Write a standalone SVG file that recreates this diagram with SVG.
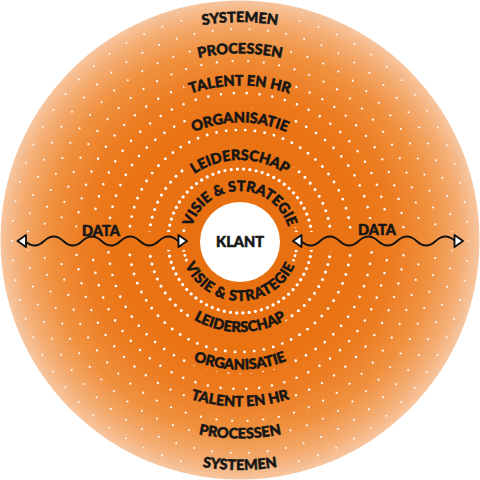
<svg xmlns="http://www.w3.org/2000/svg" xmlns:xlink="http://www.w3.org/1999/xlink" width="480" height="480" viewBox="0 0 480 480">
  <style>
    .lbl { font-family: Lato, "Liberation Sans", "DejaVu Sans", sans-serif; font-weight: 900; font-size: 14.5px; }
    .ring { fill: none; stroke: #ffffff; stroke-linecap: round; }
    .wave { fill: none; stroke: #111111; stroke-width: 1.8; }
    .head { fill: #ffffff; stroke: #111111; stroke-width: 1.9; stroke-linejoin: round; }
  </style>
  <defs>
    <radialGradient id="bg" gradientUnits="userSpaceOnUse" cx="240" cy="240" r="240">
      <stop offset="0" stop-color="#E86E0E"/>
      <stop offset="0.5" stop-color="#EA7313"/>
      <stop offset="0.65" stop-color="#ED7C22"/>
      <stop offset="0.8" stop-color="#F0913F"/>
      <stop offset="0.92" stop-color="#F4AC72"/>
      <stop offset="1" stop-color="#F7C6A0"/>
    </radialGradient>
    <path id="t50" d="M190 241 A50 50 0 0 1 290 241"/>
    <path id="t81" d="M159 241 A81 81 0 0 1 321 241"/>
    <path id="t118" d="M121.5 241 A118.5 118.5 0 0 1 358.5 241"/>
    <path id="t155" d="M84.5 241 A155.5 155.5 0 0 1 395.5 241"/>
    <path id="t187" d="M52.5 241 A187.5 187.5 0 0 1 427.5 241"/>
    <path id="t219" d="M21 241 A219 219 0 0 1 459 241"/>
    <path id="b60" d="M180 241 A60 60 0 0 0 300 241"/>
    <path id="b91" d="M149 241 A91 91 0 0 0 331 241"/>
    <path id="b128" d="M111.5 241 A128.5 128.5 0 0 0 368.5 241"/>
    <path id="b165" d="M74.5 241 A165.5 165.5 0 0 0 405.5 241"/>
    <path id="b197" d="M42.5 241 A197.5 197.5 0 0 0 437.5 241"/>
    <path id="b229" d="M11 241 A229 229 0 0 0 469 241"/>
    <polygon id="head" points="0,0 8.5,-6 8.5,6"/>
    <mask id="dotmask" maskUnits="userSpaceOnUse" x="0" y="0" width="480" height="480">
      <rect x="0" y="0" width="480" height="480" fill="#ffffff"/>
      <g stroke="#000000" stroke-width="9" stroke-linejoin="round">
        <use xlink:href="#labels"/>
      </g>
      <g fill="#000000">
        <rect x="13" y="232" width="179" height="18"/>
        <rect x="288" y="232" width="180" height="18"/>
        <rect x="77" y="220" width="48" height="19"/>
        <rect x="353" y="219" width="48" height="19"/>
      </g>
    </mask>
  </defs>

  <circle id="disc" cx="240" cy="240" r="239.5" fill="url(#bg)"/>

  <g id="dot-rings" mask="url(#dotmask)">
    <circle class="ring" cx="240" cy="241" r="57" stroke-width="2.9" stroke-dasharray="0 4.974"/>
    <circle class="ring" cx="240" cy="241" r="72" stroke-width="3.3" stroke-dasharray="0 6.283" stroke-dashoffset="3.14"/>
    <circle class="ring" cx="240" cy="241" r="91" stroke-width="3.1" stroke-dasharray="0 7.941"/>
    <circle class="ring" cx="240" cy="241" r="111" stroke-width="2.9" stroke-dasharray="0 9.687" stroke-dashoffset="4.84"/>
    <circle class="ring" cx="240" cy="241" r="132" stroke-width="2.7" stroke-dasharray="0 11.519"/>
    <circle class="ring" cx="240" cy="241" r="148" stroke-width="2.55" stroke-dasharray="0 12.915" stroke-dashoffset="6.46"/>
    <circle class="ring" cx="240" cy="241" r="164" stroke-width="2.4" stroke-dasharray="0 14.312"/>
    <circle class="ring" cx="240" cy="241" r="180" stroke-width="2.25" stroke-dasharray="0 15.708" stroke-dashoffset="7.85"/>
    <circle class="ring" cx="240" cy="241" r="196" stroke-width="2.1" stroke-dasharray="0 17.104"/>
    <circle class="ring" cx="240" cy="241" r="212" stroke-width="2" stroke-dasharray="0 18.5" stroke-dashoffset="9.25"/>
    <circle class="ring" cx="240" cy="241" r="228" stroke-width="1.9" stroke-dasharray="0 19.897"/>
  </g>

  <g stroke="#161616" stroke-width="0.55" stroke-linejoin="round">
  <g id="labels" fill="#161616">
    <g id="visie-top"><text class="lbl" text-anchor="middle"><textPath xlink:href="#t50" startOffset="50%">VISIE &amp; STRATEGIE</textPath></text></g>
    <g id="leiderschap-top"><text class="lbl" text-anchor="middle"><textPath xlink:href="#t81" startOffset="50%">LEIDERSCHAP</textPath></text></g>
    <g id="organisatie-top"><text class="lbl" text-anchor="middle"><textPath xlink:href="#t118" startOffset="50%">ORGANISATIE</textPath></text></g>
    <g id="talent-top"><text class="lbl" text-anchor="middle"><textPath xlink:href="#t155" startOffset="50%">TALENT EN HR</textPath></text></g>
    <g id="processen-top"><text class="lbl" text-anchor="middle"><textPath xlink:href="#t187" startOffset="50%">PROCESSEN</textPath></text></g>
    <g id="systemen-top"><text class="lbl" text-anchor="middle"><textPath xlink:href="#t219" startOffset="50%">SYSTEMEN</textPath></text></g>
    <g id="visie-bottom"><text class="lbl" text-anchor="middle" letter-spacing="0.6"><textPath xlink:href="#b60" startOffset="50%">VISIE &amp; STRATEGIE</textPath></text></g>
    <g id="leiderschap-bottom"><text class="lbl" text-anchor="middle"><textPath xlink:href="#b91" startOffset="50%">LEIDERSCHAP</textPath></text></g>
    <g id="organisatie-bottom"><text class="lbl" text-anchor="middle"><textPath xlink:href="#b128" startOffset="50%">ORGANISATIE</textPath></text></g>
    <g id="talent-bottom"><text class="lbl" text-anchor="middle"><textPath xlink:href="#b165" startOffset="50%">TALENT EN HR</textPath></text></g>
    <g id="processen-bottom"><text class="lbl" text-anchor="middle"><textPath xlink:href="#b197" startOffset="50%">PROCESSEN</textPath></text></g>
    <g id="systemen-bottom"><text class="lbl" text-anchor="middle"><textPath xlink:href="#b229" startOffset="50%">SYSTEMEN</textPath></text></g>
  </g>
  </g>

  <g id="klant">
    <circle cx="240" cy="242" r="40" fill="#ffffff"/>
    <text class="lbl" x="240" y="247" text-anchor="middle" fill="#161616" stroke="#161616" stroke-width="0.55" style="font-size:14.5px">KLANT</text>
  </g>

  <g id="connectors">
    <g id="data-left">
      <path class="wave" d="M25 241 q9.5625 9 19.125 0 t19.125 0 t19.125 0 t19.125 0 t19.125 0 t19.125 0 t19.125 0 t19.125 0"/>
      <use xlink:href="#head" class="head" transform="translate(17.5,241)"/>
      <use xlink:href="#head" class="head" transform="translate(187,241) scale(-1,1)"/>
      <text class="lbl" x="101" y="235.5" text-anchor="middle" fill="#161616" stroke="#161616" stroke-width="0.55">DATA</text>
    </g>
    <g id="data-right">
      <path class="wave" d="M301 241 q9.625 9 19.25 0 t19.25 0 t19.25 0 t19.25 0 t19.25 0 t19.25 0 t19.25 0 t19.25 0"/>
      <use xlink:href="#head" class="head" transform="translate(293,241)"/>
      <use xlink:href="#head" class="head" transform="translate(463,241) scale(-1,1)"/>
      <text class="lbl" x="377" y="234.5" text-anchor="middle" fill="#161616" stroke="#161616" stroke-width="0.55">DATA</text>
    </g>
  </g>
</svg>
